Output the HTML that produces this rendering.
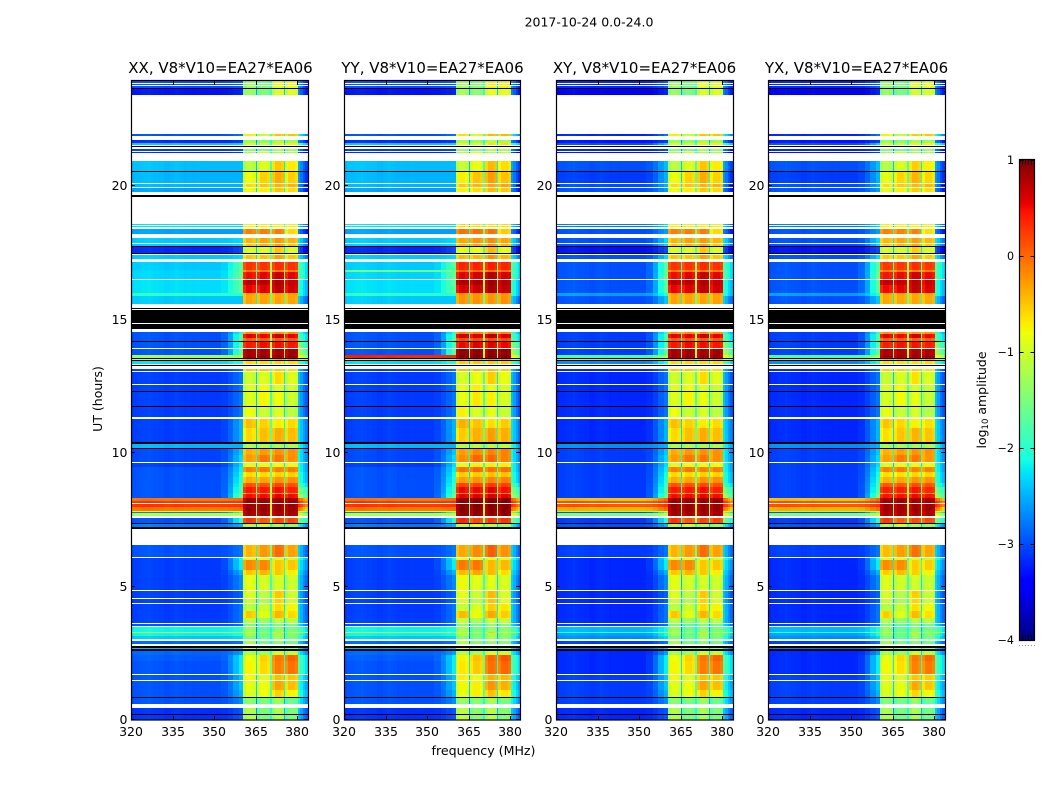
<!DOCTYPE html>
<html lang="en">
<head>
<meta charset="utf-8">
<title>2017-10-24 0.0-24.0 amplitude waterfall</title>
<style>
html,body{margin:0;padding:0;background:#fff;}
svg{display:block;}
text{font-family:"DejaVu Sans","Liberation Sans",sans-serif;fill:#000;}
</style>
</head>
<body>
<svg id="chart" xmlns="http://www.w3.org/2000/svg" width="1050" height="800" viewBox="0 0 1050 800">
<text x="589" y="26.5" font-size="12.5" text-anchor="middle">2017-10-24 0.0-24.0</text>
<text x="483.5" y="755" font-size="12.6" text-anchor="middle">frequency (MHz)</text>
<text x="0" y="0" font-size="12.5" text-anchor="middle" transform="translate(102,399) rotate(-90)">UT (hours)</text>
<text x="0" y="0" font-size="12.5" text-anchor="middle" transform="translate(986,400) rotate(-90)">log<tspan font-size="8.5" dy="2">10</tspan><tspan dy="-2"> amplitude</tspan></text>
<g id="panels"></g>
<g id="colorbar"></g>
</svg>
<script>
// ---- values (UT hours, MHz, log10 amplitude) ----
const panelTitles = ["XX, V8*V10=EA27*EA06", "YY, V8*V10=EA27*EA06", "XY, V8*V10=EA27*EA06", "YX, V8*V10=EA27*EA06"];
const panelHands = ["parallel", "parallel", "cross", "cross"];
const panelSignalOffset = [0, 0.08, 0, -0.03];
const xTicks = [320, 335, 350, 365, 380];
const yTicks = [0, 5, 10, 15, 20];
const colorTicks = [1, 0, -1, -2, -3, -4];

// Upper edge (UT hours) of each time band, from 0 h upward
const bandTop = [
 0.59,0.86,1.10,1.47,1.72,2.19,2.42,2.60,2.72,2.98,
 3.03,3.13,3.24,3.28,3.50,3.62,3.80,4.05,4.34,4.53,
 4.83,5.41,5.60,5.98,6.07,6.54,7.34,7.59,7.72,7.76,
 7.82,7.95,8.17,8.30,8.48,8.50,8.72,8.87,9.10,9.28,
 9.47,9.63,9.90,10.15,10.36,10.90,11.30,11.75,12.30,12.55,
 13.05,13.22,13.44,13.52,13.65,13.90,14.15,14.28,14.44,14.58,
 15.58,15.86,15.96,16.27,16.47,16.76,16.83,17.12,17.19,17.46,
 17.73,17.81,18.10,18.40,18.56,19.95,20.08,20.53,21.00,21.30,
 21.50,21.59,21.80,21.93,23.61,23.91];

// Background below 350 MHz in XX / YY
const bgParallel = [
 -3.15,-3.0,-3.0,-3.0,-3.0,-3.0,-2.95,-2.9,-2.5,-2.9,
 -1.0,-2.4,-2.2,-1.0,-2.2,-3.0,-3.1,-3.1,-3.1,-3.1,
 -3.1,-3.1,-3.1,-3.1,-3.1,-3.0,-2.8,-3.0,-1.2,-2.8,
 -1.0,-0.1,0.25,-0.1,-3.0,-3.0,-3.0,-3.0,-3.0,-3.0,
 -3.0,-3.1,-3.05,-3.05,-2.5,-3.1,-3.1,-3.1,-3.1,-3.1,
 -3.1,-3.1,-2.3,-1.0,-1.3,-3.0,-3.0,-3.0,-3.0,-3.0,
 -3.0,-2.4,-2.0,-2.3,-2.3,-2.35,-2.35,-2.4,-1.9,-2.4,
 -3.2,-2.4,-2.4,-2.6,-2.3,-2.6,-2.5,-2.5,-2.45,-3.2,
 -3.1,-2.4,-3.2,-3.0,-3.3,-3.0];

// Background below 350 MHz in XY / YX
const bgCross = [
 -3.2,-3.1,-3.1,-3.1,-3.1,-3.2,-3.2,-3.2,-2.8,-3.1,
 -2.3,-2.7,-2.6,-2.0,-2.5,-3.1,-3.2,-3.2,-3.2,-3.2,
 -3.2,-3.2,-3.2,-3.2,-3.2,-3.1,-3.0,-3.1,-1.5,-3.0,
 -1.3,-0.4,0.1,-0.5,-3.1,-3.1,-3.1,-3.1,-3.1,-3.1,
 -3.1,-3.1,-3.1,-3.1,-2.7,-3.2,-3.2,-3.2,-3.2,-3.2,
 -3.2,-3.2,-2.7,-1.4,-1.8,-3.1,-3.1,-3.1,-3.1,-3.1,
 -3.1,-3.0,-2.6,-3.0,-3.0,-3.0,-3.0,-3.0,-2.4,-3.0,
 -3.3,-3.0,-3.0,-3.0,-2.8,-3.0,-3.0,-3.1,-3.0,-3.3,
 -3.2,-3.0,-3.3,-3.2,-3.4,-3.2];

// Level reached just left of the signal blocks (350-360 MHz shoulder)
const shoulderLevel = [
 -2.95,-2.7,-2.5,-2.4,-2.4,-2.2,-2.2,-2.6,-2.3,-2.8,
 -1.2,-2.3,-2.1,-1.0,-2.1,-2.8,-2.8,-2.8,-2.8,-2.9,
 -2.9,-2.7,-2.5,-2.2,-2.1,-2.8,-2.5,-2.0,-1.0,-2.0,
 -1.0,0.0,0.3,0.0,-1.6,-1.7,-1.8,-1.9,-2.0,-2.1,
 -2.2,-2.3,-2.3,-2.4,-2.5,-2.5,-2.5,-2.8,-2.8,-2.8,
 -2.8,-2.8,-2.0,-1.0,-1.2,-1.7,-1.8,-1.8,-1.8,-2.0,
 -2.0,-2.4,-2.0,-1.7,-1.7,-1.6,-1.7,-1.7,-1.9,-2.3,
 -3.0,-2.3,-2.3,-2.6,-2.3,-2.6,-2.5,-2.5,-2.45,-3.1,
 -3.0,-2.3,-3.1,-2.8,-3.2,-2.9];

// 380-384 MHz edge level
const rightEdgeLevel = [
 -2.65,-2.4,-2.2,-2.3,-2.2,-2.0,-2.0,-2.4,-2.5,-2.6,
 -1.0,-2.2,-2.1,-1.0,-2.0,-2.5,-2.6,-2.6,-2.6,-2.7,
 -2.7,-2.6,-2.5,-2.4,-2.2,-2.6,-2.4,-1.8,-1.0,-2.0,
 -1.0,-0.3,0.1,-0.2,-1.5,-1.6,-1.7,-2.0,-2.2,-2.2,
 -2.3,-2.3,-2.4,-2.4,-2.3,-2.5,-2.5,-2.7,-2.7,-2.7,
 -2.7,-2.7,-2.0,-1.0,-1.0,-1.5,-1.7,-2.0,-2.0,-2.2,
 -2.2,-2.6,-2.2,-2.2,-2.2,-2.0,-2.0,-2.0,-2.0,-2.5,
 -3.2,-2.5,-2.5,-3.0,-2.6,-3.0,-2.9,-2.9,-2.8,-3.2,
 -3.0,-2.1,-3.0,-2.4,-3.0,-2.9];

// Four 4-MHz signal blocks, 361-365, 366-370, 371-375, 376-380 MHz
const signalA = [
 -1.15,-1.4,-0.9,-0.85,-0.8,-0.75,-0.8,-1.2,-0.9,-1.2,
 -0.8,-1.5,-1.3,-1.0,-1.3,-1.5,-1.1,-0.5,-1.1,-1.0,
 -0.9,-0.85,-0.5,-0.15,-0.9,-0.4,-1.2,0.3,0.85,0.85,
 0.85,0.9,0.9,0.9,0.5,-0.3,0.45,0.15,-0.35,-0.6,
 -0.1,-0.9,-0.25,-0.35,-1.2,-0.6,-0.45,-0.8,-0.9,-0.9,
 -1.0,-0.5,-0.6,-0.3,0.9,0.85,0.45,0.1,0.6,-0.2,
 -0.2,-0.3,-0.3,0.55,0.75,0.5,-0.1,0.3,-0.2,-0.5,
 -0.9,-0.5,-0.4,-0.1,-0.7,-0.8,-0.6,-0.8,-1.1,-1.2,
 -1.4,-0.9,-1.3,-0.7,-1.3,-1.3];
const signalB = [
 -1.5,-1.5,-0.8,-0.8,-0.9,-0.6,-0.55,-1.3,-1.2,-1.5,
 -0.8,-1.6,-1.6,-1.2,-1.6,-1.7,-1.3,-0.85,-1.0,-1.2,
 -1.1,-0.95,-0.4,-0.15,-0.9,-0.25,-1.0,0.1,0.85,0.85,
 0.85,0.9,0.9,0.9,0.5,-0.3,0.45,0.15,-0.3,-0.6,
 -0.05,-0.8,-0.05,-0.25,-1.2,-0.45,-0.55,-1.0,-0.75,-0.8,
 -0.9,-0.5,-0.6,-0.3,0.9,0.85,0.5,0.1,0.55,-0.2,
 -0.2,-0.3,-0.3,0.6,0.75,0.55,-0.1,0.3,-0.2,-0.5,
 -0.9,-0.4,-0.3,-0.1,-0.7,-0.7,-0.5,-0.55,-0.9,-0.9,
 -1.5,-1.0,-1.4,-1.0,-1.5,-1.5];
const signalC = [
 -1.2,-1.3,-0.55,-0.3,-0.45,-0.1,-0.05,-1.0,-1.2,-1.4,
 -0.8,-1.3,-1.3,-0.6,-1.4,-1.5,-1.1,-0.4,-0.6,-0.55,
 -0.5,-0.95,-0.5,-0.5,-0.9,0.0,-1.2,0.2,0.85,0.85,
 0.85,0.9,0.9,0.9,0.55,-0.3,0.5,0.2,-0.2,-0.55,
 -0.1,-0.8,-0.05,-0.2,-1.2,-0.35,-0.7,-0.9,-0.8,-0.9,
 -0.6,-0.5,-0.6,-0.3,0.9,0.85,0.5,0.1,0.7,-0.2,
 -0.1,-0.3,-0.3,0.75,0.8,0.7,-0.1,0.35,-0.2,-0.3,
 -0.5,-0.3,-0.25,-0.1,-0.7,-0.5,-0.4,-0.35,-0.5,-1.2,
 -1.2,-0.7,-1.2,-0.5,-0.9,-0.8];
const signalD = [
 -1.5,-1.6,-0.75,-0.45,-0.5,-0.05,0.05,-1.1,-1.3,-1.5,
 -0.8,-1.5,-1.5,-1.0,-1.5,-1.6,-1.1,-0.6,-0.75,-0.95,
 -1.0,-1.0,-0.7,-0.5,-1.0,-0.3,-1.4,0.2,0.85,0.85,
 0.85,0.9,0.9,0.9,0.5,-0.3,0.4,0.15,-0.2,-0.55,
 -0.1,-0.8,-0.2,-0.2,-1.2,-0.45,-0.6,-1.1,-1.0,-1.0,
 -0.9,-0.6,-0.6,-0.3,0.9,0.85,0.45,0.1,0.55,-0.2,
 -0.2,-0.3,-0.3,0.65,0.7,0.55,-0.1,0.3,-0.2,-0.5,
 -0.9,-0.5,-0.4,-0.6,-0.7,-0.6,-0.4,-0.55,-0.7,-1.2,
 -1.3,-0.7,-1.3,-0.5,-0.9,-0.8];

// YY has hotter lines near 13.6 h and 16.8 h
const yyHotBandTop = [13.65, 16.83];
const yyHotBandLevel = [0.35, -1.6];

// Fine per-MHz slope of the background, 320-350 MHz
const bgSpectrum = [0,0.03,0.03,0.04,0.06,0.06,0.08,0.06,0.04,0.04,0.03,0.03,0,0,0.02,0.03,0.05,0.03,0.02,0,0.01,0.01,0,0,0.01,0,0,0,0,0];
// Fraction of the way from background to shoulder level in each step above 350 MHz
const shoulderEdges = [350, 352.5, 355, 357, 359, 360.6];
const shoulderFraction = [0, 0.1, 0.35, 0.7, 1];
// Signal block outline
const blockStart = [360.6, 365.7, 370.8, 375.8];
const blockShape = [-0.18, 0, 0, -0.08];
const gapOffset = [-0.5, 0.1, -0.3];
const rightEdgeEdges = [380.2, 381, 382, 383, 384];
const rightEdgeShape = [0.25, 0.1, -0.1, -0.25];

// Flagged time ranges: no data (white) and zero data (black)
const whiteFlagStart = [0.42,1.44,1.69,2.74,2.95,3.48,3.60,4.33,4.51,4.81,6.05,6.54,7.55,8.08,9.61,11.25,12.52,13.03,13.13,13.27,13.88,14.52,14.81,15.32,16.46,17.15,17.40,17.80,18.03,18.37,18.50,18.56,19.63,19.93,20.06,20.92,21.29,21.37,21.48,21.70,21.93,23.73,23.80];
const whiteFlagEnd = [0.59,1.47,1.72,2.83,3.00,3.52,3.63,4.36,4.55,4.85,6.09,7.15,7.63,8.11,9.64,11.34,12.57,13.07,13.24,13.31,13.91,14.63,14.86,15.58,16.49,17.23,17.46,17.83,18.18,18.45,18.52,19.57,19.76,19.96,20.09,21.22,21.31,21.44,21.52,21.85,23.39,23.76,23.84];
const blackFlagStart = [0.17,0.81,2.57,2.69,7.15,7.32,10.13,10.33,11.73,12.28,13.24,13.44,13.50,14.13,14.63,14.86,15.38,17.46,17.70,19.57,20.51,21.44,23.61];
const blackFlagEnd = [0.20,0.86,2.63,2.74,7.20,7.36,10.18,10.39,11.76,12.31,13.27,13.48,13.53,14.18,14.81,15.32,15.41,17.49,17.75,19.63,20.54,21.48,23.65];

// ---- layout ----
const NS = "http://www.w3.org/2000/svg";
const panelLeft = [131, 344, 556, 768];
const panelWidth = [177, 176, 177, 177];
const titleCenter = [220.5, 432.5, 644.5, 856.5];
const plotTop = 81, plotBottom = 719.5;
const pxPerMHz = 2.767, pxPerHour = 26.7;
const fMin = 320, fMax = 384;
const valMin = -4, valMax = 1;

function xScale(p, f) { return panelLeft[p] + (f - fMin) * pxPerMHz; }
function yScale(h) { return plotBottom - h * pxPerHour; }

const jetR = [[0,0],[0.35,0],[0.66,1],[0.89,1],[1,0.5]];
const jetG = [[0,0],[0.125,0],[0.375,1],[0.64,1],[0.91,0],[1,0]];
const jetB = [[0,0.5],[0.11,1],[0.34,1],[0.65,0],[1,0]];
function lerpStops(s, t) {
  for (let i = 1; i < s.length; i++) {
    if (t <= s[i][0]) {
      return s[i-1][1] + (s[i][1]-s[i-1][1]) * (t-s[i-1][0]) / (s[i][0]-s[i-1][0]);
    }
  }
  return s[s.length-1][1];
}
function jet(v) {
  const t = Math.min(1, Math.max(0, (v - valMin) / (valMax - valMin)));
  return "rgb(" + Math.round(255*lerpStops(jetR,t)) + "," + Math.round(255*lerpStops(jetG,t)) + "," + Math.round(255*lerpStops(jetB,t)) + ")";
}
function svgEl(tag, attrs, parent) {
  const el = document.createElementNS(NS, tag);
  for (const k in attrs) el.setAttribute(k, attrs[k]);
  parent.appendChild(el);
  return el;
}
function addCell(g, p, f0, f1, h0, h1, fill) {
  const x0 = Math.round(xScale(p, f0));
  const x1 = Math.min(panelLeft[p] + panelWidth[p], Math.round(xScale(p, f1)));
  const y0 = Math.round(yScale(h0)), y1 = Math.round(yScale(h1));
  if (x1 <= x0) return;
  const el = svgEl("rect", {x:x0, y:y1, width:x1-x0, height:Math.max(1, y0-y1), fill:fill}, g);
  
  
}
const signalSeries = [signalA, signalB, signalC, signalD];

function drawPanel(p) {
  const root = document.getElementById("panels");
  const g = svgEl("g", {"shape-rendering":"crispEdges"}, root);
  
  
  const bgSeries = panelHands[p] === "parallel" ? bgParallel : bgCross;
  for (let b = 0; b < bandTop.length; b++) {
    const h0 = b === 0 ? 0 : bandTop[b-1], h1 = bandTop[b];
    const hot = p === 1 ? yyHotBandTop.indexOf(h1) : -1;
    const bg = hot >= 0 ? yyHotBandLevel[hot] : bgSeries[b];
    const sh = hot >= 0 ? bg : shoulderLevel[b];
    bgSpectrum.forEach(function (off, c) {
      addCell(g, p, fMin + c, fMin + c + 1, h0, h1, jet(bg + off));
    });
    shoulderFraction.forEach(function (fr, i) {
      addCell(g, p, shoulderEdges[i], shoulderEdges[i+1], h0, h1, jet(bg + (sh - bg) * fr));
    });
    let mean = 0;
    signalSeries.forEach(function (s) { mean += s[b] / signalSeries.length; });
    const gapBase = 0.45 * mean - 1.55;
    blockStart.forEach(function (start, k) {
      const lvl = signalSeries[k][b] + panelSignalOffset[p];
      const step = 4.4 / blockShape.length;
      blockShape.forEach(function (off, j) {
        addCell(g, p, start + j*step, start + (j+1)*step, h0, h1, jet(lvl + off));
      });
      if (k + 1 < blockStart.length) addCell(g, p, start + 4.4, blockStart[k+1], h0, h1, jet(gapBase + gapOffset[k]));
    });
    addCell(g, p, blockStart[3] + 4.4, rightEdgeEdges[0], h0, h1, jet(rightEdgeLevel[b]));
    rightEdgeShape.forEach(function (off, i) {
      addCell(g, p, rightEdgeEdges[i], rightEdgeEdges[i+1], h0, h1, jet(rightEdgeLevel[b] + off));
    });
  }
  whiteFlagStart.forEach(function (s, i) {
    addFlag(g, p, s, whiteFlagEnd[i], "#fff", "flagged-gap");
  });
  blackFlagStart.forEach(function (s, i) {
    addFlag(g, p, s, blackFlagEnd[i], "#000", "zero-data-band");
  });
  drawAxes(p, root);
}
function addFlag(g, p, h0, h1, fill, name) {
  const x0 = panelLeft[p], x1 = panelLeft[p] + panelWidth[p];
  const y0 = Math.round(yScale(h0)), y1 = Math.round(yScale(h1));
  const el = svgEl("rect", {x:x0, y:y1, width:x1-x0, height:Math.max(1, y0-y1), fill:fill}, g);
  
  
}
function drawAxes(p, root) {
  const left = panelLeft[p], w = panelWidth[p];
  const g = svgEl("g", {}, root);
  
  
  const frame = svgEl("rect", {x:left+0.5, y:plotTop-0.5, width:w, height:720-plotTop+0.5, fill:"none", stroke:"#000", "stroke-width":1.2}, g);
  
  
  xTicks.forEach(function (t) {
    const x = Math.round(xScale(p, t)) + 0.5;
    [[720, 716], [plotTop, plotTop+4]].forEach(function (ys) {
      const l = svgEl("line", {x1:x, x2:x, y1:ys[0], y2:ys[1], stroke:"#000", "stroke-width":1}, g);
      
      
    });
    const txt = svgEl("text", {x:x-0.5, y:736, "font-size":12.5, "text-anchor":"middle"}, g);
    
    
    txt.textContent = t;
  });
  yTicks.forEach(function (t) {
    const y = Math.floor(yScale(t)) + 0.5;
    [[left, left+4], [left+w, left+w-4]].forEach(function (xs) {
      const l = svgEl("line", {x1:xs[0], x2:xs[1], y1:y, y2:y, stroke:"#000", "stroke-width":1}, g);
      
      
    });
    const txt = svgEl("text", {x:left-3.5, y:y+4.5, "font-size":12.5, "text-anchor":"end"}, g);
    
    
    txt.textContent = t;
  });
  const title = svgEl("text", {x:titleCenter[p], y:73, "font-size":15, "text-anchor":"middle"}, g);
  
  
  title.textContent = panelTitles[p];
}
function drawColorbar() {
  const g = document.getElementById("colorbar");
  const cbLeft = 1019.5, cbWidth = 15, cbTop = 160, cbBottom = 640;
  const cbY = function (v) { return cbBottom - (v - valMin) / (valMax - valMin) * (cbBottom - cbTop); };
  for (let y = cbTop; y < cbBottom; y += 2) {
    const v = valMax - (y + 1 - cbTop) / (cbBottom - cbTop) * (valMax - valMin);
    const r = svgEl("rect", {x:cbLeft-0.5, y:y, width:cbWidth+1, height:2, fill:jet(v), "shape-rendering":"crispEdges"}, g);
    
    
  }
  const frame = svgEl("rect", {x:cbLeft, y:cbTop-0.5, width:cbWidth, height:cbBottom-cbTop+1, fill:"none", stroke:"#000", "stroke-width":1.2}, g);
  
  
  colorTicks.forEach(function (t) {
    const y = Math.round(cbY(t)) + 0.5;
    [[cbLeft, cbLeft+4], [cbLeft+cbWidth, cbLeft+cbWidth-4]].forEach(function (xs) {
      const l = svgEl("line", {x1:xs[0], x2:xs[1], y1:y, y2:y, stroke:"#000", "stroke-width":1}, g);
      
      
    });
    const txt = svgEl("text", {x:cbLeft-5.5, y:y+3.5, "font-size":11.1, "text-anchor":"end"}, g);
    
    
    txt.textContent = t < 0 ? "\u2212" + Math.abs(t) : String(t);
  });
  for (let i = 0; i <= 5; i++) {
    const x = cbLeft + i * cbWidth / 5;
    [[cbTop, cbTop+5], [cbBottom, cbBottom-5]].forEach(function (ys) {
      const l = svgEl("line", {x1:x, x2:x, y1:ys[0], y2:ys[1], stroke:"#000", "stroke-width":0.8}, g);
      
      
    });
    const d = svgEl("rect", {x:x-0.5, y:645, width:1, height:1, fill:"#999"}, g);
    
    
  }
}
for (let p = 0; p < panelTitles.length; p++) drawPanel(p);
drawColorbar();
</script>
</body>
</html>
